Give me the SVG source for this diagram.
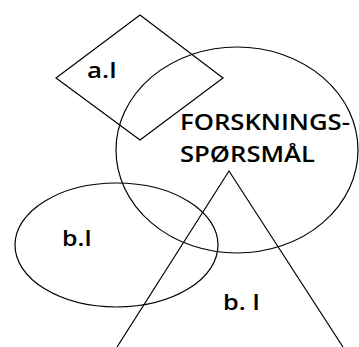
<svg xmlns="http://www.w3.org/2000/svg" width="359" height="347" viewBox="0 0 359 347">
<style>
.s{fill:none;stroke:#000;stroke-width:1.2}
.t{font-family:"Open Sans","Liberation Sans",sans-serif;font-size:21px;fill:#000;font-weight:600}
</style>
<rect width="359" height="347" fill="#fff"/>
<g id="diamond-a1">
<polygon class="s" points="140,15 223,78 140,140 56,78"/>
<text class="t" x="87" y="78" textLength="30" lengthAdjust="spacingAndGlyphs">a.I</text>
</g>
<g id="circle-forskning">
<ellipse class="s" cx="237" cy="150" rx="121" ry="103"/>
<text class="t" x="180" y="130" textLength="170" lengthAdjust="spacingAndGlyphs">FORSKNINGS-</text>
<text class="t" x="180" y="162" textLength="135" lengthAdjust="spacingAndGlyphs">SPØRSMÅL</text>
</g>
<g id="ellipse-b1">
<ellipse class="s" cx="116.5" cy="245" rx="101.5" ry="62"/>
<text class="t" x="62" y="246" textLength="30" lengthAdjust="spacingAndGlyphs">b.I</text>
</g>
<g id="triangle-b1">
<polyline class="s" points="117,347 229,171 343,347"/>
<text class="t" x="223" y="310" textLength="37" lengthAdjust="spacingAndGlyphs">b. I</text>
</g>
<g id="connectors"></g>
</svg>
